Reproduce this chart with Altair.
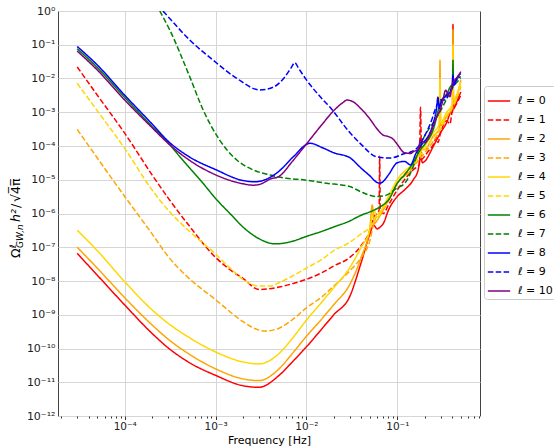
import altair as alt
import pandas as pd

# ---------------- data ----------------
labels = ["ℓ = 0", "ℓ = 1", "ℓ = 2", "ℓ = 3", "ℓ = 4", "ℓ = 5",
          "ℓ = 6", "ℓ = 7", "ℓ = 8", "ℓ = 9", "ℓ = 10"]
colors = ["#ff0000", "#ff0000", "#ffa500", "#ffa500", "#ffd700", "#ffd700",
          "#008000", "#008000", "#0000ff", "#0000ff", "#800080"]
dashed = [False, True, False, True, False, True, False, True, False, True, False]

f_l0 = [3e-5, 5e-5, 1e-4, 2e-4, 3e-4, 5e-4, 1e-3, 2e-3, 3e-3, 5e-3, 7e-3, 1e-2, 1.5e-2, 2e-2,
        3e-2, 4e-2, 5e-2, 5.5e-2, 6e-2, 6.5e-2, 7e-2, 8e-2, 1e-1, 1.2e-1, 1.5e-1, 1.7e-1, 1.8e-1,
        1.9e-1, 2e-1, 2.5e-1, 3e-1, 3.5e-1, 3.9e-1, 4.05e-1, 4.1e-1, 4.15e-1, 4.5e-1, 5e-1]
o_l0 = [6.6e-8, 1.48e-8, 1.95e-9, 2.8e-10, 1.05e-10, 4.0e-11, 1.6e-11, 7.9e-12, 7.1e-12, 1.6e-11,
        4.0e-11, 1.12e-10, 4.0e-10, 1.0e-9, 3.5e-9, 3.5e-8, 2.5e-7, 4.5e-7, 3.5e-7, 4.0e-7, 5.0e-7,
        1.26e-6, 3.2e-6, 5.0e-6, 1.0e-5, 2.0e-5, 4.5e-5, 3.2e-5, 3.5e-5, 1.0e-4, 2.5e-4, 5.0e-4,
        1.0e-3, 1.0e-3, 0.4, 1.26e-3, 2.0e-3, 4.0e-3]

f_l1 = [3e-5, 5e-5, 1e-4, 2e-4, 3e-4, 5e-4, 1e-3, 1.5e-3, 2e-3, 3e-3, 5e-3, 7e-3, 1e-2, 1.5e-2,
        2e-2, 3e-2, 4e-2, 5e-2, 5.5e-2, 6e-2, 6.3e-2, 6.4e-2, 6.5e-2, 7e-2, 8e-2, 1e-1, 1.2e-1,
        1.5e-1, 1.75e-1, 1.8e-1, 1.85e-1, 2e-1, 2.2e-1, 2.5e-1, 2.7e-1, 2.8e-1, 3e-1, 3.5e-1,
        3.8e-1, 4e-1, 4.5e-1, 5e-1]
o_l1 = [2.2e-2, 3.2e-3, 2.4e-4, 1.4e-5, 2.9e-6, 4.7e-7, 5.0e-8, 2.0e-8, 1.2e-8, 5.6e-9, 6.6e-9,
        8.3e-9, 1.12e-8, 1.8e-8, 2.8e-8, 5.0e-8, 1.12e-7, 3.2e-7, 7.9e-7, 1.0e-6, 1.26e-6, 5.0e-5,
        1.26e-6, 1.0e-6, 1.8e-6, 5.0e-6, 1.0e-5, 2.0e-5, 2.8e-5, 1.4e-3, 4.0e-5, 5.0e-5, 7.1e-5,
        1.12e-4, 1.8e-4, 1.26e-4, 2.5e-4, 5.6e-4, 4.5e-4, 1.0e-3, 1.8e-3, 3.2e-3]

f_l2 = [3e-5, 5e-5, 1e-4, 2e-4, 3e-4, 5e-4, 1e-3, 2e-3, 3e-3, 5e-3, 7e-3, 1e-2, 1.5e-2, 2e-2,
        3e-2, 4e-2, 5e-2, 5.3e-2, 5.6e-2, 6e-2, 7e-2, 8e-2, 1e-1, 1.5e-1, 1.8e-1, 2e-1, 2.5e-1,
        2.9e-1, 2.95e-1, 3e-1, 3.5e-1, 4.05e-1, 4.1e-1, 4.15e-1, 5e-1]
o_l2 = [1.0e-7, 2.4e-8, 3.2e-9, 5.0e-10, 1.9e-10, 7.1e-11, 2.5e-11, 1.26e-11, 1.12e-11, 2.5e-11,
        7.1e-11, 2.3e-10, 7.9e-10, 2.0e-9, 7.9e-9, 5.0e-8, 4.0e-7, 1.8e-6, 5.0e-7, 6.3e-7, 1.26e-6,
        2.5e-6, 7.9e-6, 2.5e-5, 7.9e-5, 7.9e-5, 2.0e-4, 3.2e-4, 3.5e-2, 4.0e-4, 7.9e-4, 1.4e-3,
        0.28, 2.0e-3, 8.9e-3]

f_l3 = [3e-5, 5e-5, 1e-4, 2e-4, 3e-4, 5e-4, 1e-3, 2e-3, 3e-3, 3.5e-3, 5e-3, 7e-3, 1e-2, 1.5e-2,
        2e-2, 3e-2, 4e-2, 5e-2, 5.5e-2, 6e-2, 7e-2, 8e-2, 1e-1, 1.5e-1, 2e-1, 2.5e-1, 3e-1,
        3.5e-1, 4e-1, 5e-1]
o_l3 = [3.1e-4, 4.4e-5, 3.2e-6, 2.5e-7, 5.4e-8, 1.26e-8, 2.8e-9, 6.3e-10, 3.5e-10, 3.3e-10,
        4.0e-10, 7.1e-10, 1.6e-9, 3.5e-9, 7.1e-9, 2.0e-8, 5.0e-8, 1.6e-7, 5.0e-7, 8.9e-7, 1.26e-6,
        2.5e-6, 7.9e-6, 2.5e-5, 6.3e-5, 1.4e-4, 3.2e-4, 7.1e-4, 1.26e-3, 5.6e-3]

f_l4 = [3e-5, 5e-5, 1e-4, 2e-4, 3e-4, 5e-4, 1e-3, 2e-3, 3e-3, 5e-3, 7e-3, 1e-2, 1.5e-2, 2e-2,
        3e-2, 4e-2, 5e-2, 5.5e-2, 6e-2, 7e-2, 8e-2, 1e-1, 1.5e-1, 2e-1, 2.5e-1, 2.9e-1, 2.95e-1,
        3e-1, 3.5e-1, 4.05e-1, 4.1e-1, 4.15e-1, 5e-1]
o_l4 = [3.2e-7, 7.9e-8, 9.5e-9, 1.4e-9, 5.6e-10, 2.2e-10, 7.9e-11, 4.0e-11, 3.5e-11, 7.1e-11,
        2.0e-10, 6.9e-10, 2.5e-9, 6.3e-9, 2.5e-8, 1.0e-7, 3.5e-7, 1.26e-6, 7.9e-7, 1.6e-6, 3.2e-6,
        1.0e-5, 3.2e-5, 1.0e-4, 2.5e-4, 4.5e-4, 1.0e-2, 5.0e-4, 1.0e-3, 1.8e-3, 0.1, 2.5e-3, 7.9e-3]

f_l5 = [3e-5, 5e-5, 1e-4, 2e-4, 3e-4, 5e-4, 1e-3, 1.5e-3, 2e-3, 3e-3, 4e-3, 5e-3, 7e-3, 1e-2,
        1.5e-2, 2e-2, 3e-2, 4e-2, 5e-2, 5.5e-2, 6e-2, 7e-2, 8e-2, 1e-1, 1.5e-1, 2e-1, 2.5e-1,
        3e-1, 3.5e-1, 4e-1, 5e-1]
o_l5 = [7.2e-3, 1.1e-3, 8.5e-5, 5.0e-6, 1.26e-6, 3.2e-7, 6.3e-8, 2.2e-8, 1.12e-8, 7.1e-9, 7.1e-9,
        8.9e-9, 1.4e-8, 2.4e-8, 4.5e-8, 7.9e-8, 1.4e-7, 2.5e-7, 4.0e-7, 6.3e-7, 8.9e-7, 1.4e-6,
        2.5e-6, 7.9e-6, 2.8e-5, 7.9e-5, 1.8e-4, 3.5e-4, 7.9e-4, 1.4e-3, 6.3e-3]

f_l6 = [3e-5, 5e-5, 1e-4, 2e-4, 3e-4, 4e-4, 5e-4, 7e-4, 1e-3, 1.5e-3, 2e-3, 3e-3, 4.5e-3, 7e-3,
        1e-2, 1.5e-2, 2e-2, 3e-2, 4e-2, 5e-2, 6e-2, 7e-2, 8e-2, 1e-1, 1.2e-1, 1.5e-1, 1.8e-1,
        2e-1, 2.5e-1, 3e-1, 3.5e-1, 4e-1, 4.05e-1, 4.1e-1, 4.15e-1, 4.5e-1, 5e-1]
o_l6 = [7.6e-2, 2.1e-2, 2.75e-3, 3.8e-4, 1.26e-4, 5.0e-5, 2.5e-5, 8.9e-6, 2.8e-6, 8.9e-7, 4.0e-7,
        1.8e-7, 1.26e-7, 1.5e-7, 2.1e-7, 3.0e-7, 4.0e-7, 6.0e-7, 8.9e-7, 1.12e-6, 1.4e-6, 1.8e-6,
        2.5e-6, 7.9e-6, 1.4e-5, 3.2e-5, 7.9e-5, 1.12e-4, 3.2e-4, 2.0e-3, 3.5e-3, 6.3e-3, 6.3e-3,
        3.5e-2, 7.1e-3, 1.0e-2, 1.12e-2]

f_l7 = [2.43e-4, 3.13e-4, 5.2e-4, 7.3e-4, 1.11e-3, 1.7e-3, 2.6e-3, 4e-3, 6e-3, 9.2e-3, 1.66e-2,
        3e-2, 3.9e-2, 5.9e-2, 7.6e-2, 9.8e-2, 1.21e-1, 1.5e-1, 1.77e-1, 2e-1, 2.5e-1, 3e-1, 3.5e-1,
        4e-1, 5e-1]
o_l7 = [1.0, 0.275, 1.12e-2, 1.17e-3, 1.5e-4, 3.9e-5, 1.95e-5, 1.38e-5, 1.1e-5, 1.0e-5, 7.9e-6,
        6.3e-6, 4.5e-6, 3.2e-6, 3.5e-6, 5.6e-6, 7.9e-6, 2.5e-5, 1.0e-4, 2.0e-4, 5.0e-4, 1.12e-3,
        2.5e-3, 5.0e-3, 1.0e-2]

f_l8 = [3e-5, 5e-5, 1e-4, 2e-4, 3e-4, 5e-4, 1e-3, 2e-3, 2.7e-3, 3.5e-3, 5e-3, 7e-3, 1.1e-2,
        1.5e-2, 2e-2, 3e-2, 4e-2, 5e-2, 6e-2, 6.5e-2, 7e-2, 8e-2, 1e-1, 1.2e-1, 1.4e-1, 1.6e-1,
        1.8e-1, 2e-1, 2.2e-1, 2.5e-1, 2.7e-1, 2.8e-1, 2.9e-1, 3e-1, 3.5e-1, 4e-1, 4.1e-1, 4.2e-1,
        4.5e-1, 5e-1]
o_l8 = [8.9e-2, 2.5e-2, 3.2e-3, 4.5e-4, 1.4e-4, 5.0e-5, 2.0e-5, 9.5e-6, 8.7e-6, 1.0e-5, 1.8e-5,
        4.5e-5, 1.2e-4, 8.9e-5, 6.3e-5, 4.5e-5, 2.2e-5, 1.3e-5, 8.3e-6, 7.9e-6, 8.9e-6, 1.4e-5,
        3.2e-5, 3.5e-5, 2.75e-5, 6.0e-5, 1.0e-4, 1.4e-4, 2.0e-4, 5.0e-4, 1.26e-3, 2.8e-3, 1.26e-3,
        1.8e-3, 3.2e-3, 5.0e-3, 1.26e-2, 6.3e-3, 1.0e-2, 1.4e-2]

f_l9 = [2.64e-4, 3.13e-4, 5.2e-4, 9.4e-4, 1.7e-3, 3.07e-3, 4.3e-3, 5.8e-3, 6.8e-3, 7.45e-3,
        8.2e-3, 1.0e-2, 1.53e-2, 1.8e-2, 3.0e-2, 4e-2, 5.9e-2, 8.3e-2, 1.21e-1, 1.5e-1, 1.7e-1,
        2e-1, 2.39e-1, 2.6e-1, 2.97e-1, 3.3e-1, 3.7e-1, 4.1e-1, 4.9e-1]
o_l9 = [1.0, 0.6, 0.138, 3.5e-2, 1.02e-2, 4.6e-3, 5.5e-3, 1.12e-2, 2.1e-2, 2.95e-2, 2.0e-2,
        9.1e-3, 2.3e-3, 1.45e-3, 2.5e-4, 1.12e-4, 4.8e-5, 4.4e-5, 6.0e-5, 7.1e-5, 9.5e-5, 2.0e-4,
        5.9e-4, 1.17e-3, 2.3e-3, 2.3e-3, 3.6e-3, 6.3e-3, 1.12e-2]

f_l10 = [3e-5, 5e-5, 1e-4, 2e-4, 3e-4, 5e-4, 1e-3, 2e-3, 2.6e-3, 3.2e-3, 4e-3, 5e-3, 7e-3, 1e-2,
         1.5e-2, 2e-2, 2.5e-2, 2.8e-2, 3.2e-2, 4e-2, 5e-2, 6e-2, 7e-2, 8e-2, 9e-2, 1e-1, 1.2e-1,
         1.4e-1, 1.5e-1, 1.7e-1, 1.8e-1, 2e-1, 2.2e-1, 2.5e-1, 2.7e-1, 3e-1, 3.2e-1, 3.4e-1,
         3.6e-1, 3.8e-1, 4e-1, 4.3e-1, 4.6e-1, 5e-1]
o_l10 = [6.5e-2, 1.78e-2, 2.3e-3, 3.5e-4, 1.2e-4, 4.0e-5, 1.4e-5, 7.6e-6, 6.9e-6, 7.6e-6, 1.05e-5,
         1.26e-5, 3.5e-5, 1.15e-4, 4.5e-4, 1.12e-3, 1.9e-3, 2.3e-3, 2.1e-3, 1.26e-3, 6.3e-4,
         3.2e-4, 2.1e-4, 1.9e-4, 1.6e-4, 1.12e-4, 6.3e-5, 6.0e-5, 6.8e-5, 7.9e-5, 1.5e-4, 1.26e-4,
         1.8e-4, 4.0e-4, 7.1e-4, 1.26e-3, 2.5e-3, 4.5e-3, 3.5e-3, 2.9e-3, 6.3e-3, 9.1e-3, 1.12e-2,
         1.6e-2]

freqs = [f_l0, f_l1, f_l2, f_l3, f_l4, f_l5, f_l6, f_l7, f_l8, f_l9, f_l10]
omegas = [o_l0, o_l1, o_l2, o_l3, o_l4, o_l5, o_l6, o_l7, o_l8, o_l9, o_l10]

rows = []
for k, (fs, os_) in enumerate(zip(freqs, omegas)):
    for i, (f, o) in enumerate(zip(fs, os_)):
        rows.append({"label": labels[k], "k": k, "i": i, "f": f, "omega": o})
df = pd.DataFrame(rows)

# ---------------- axes helpers ----------------
X_DOMAIN = [1.845e-5, 0.813]
Y_DOMAIN = [1e-12, 1.0]
SUP = {0: "⁰", -1: "⁻¹", -2: "⁻²", -3: "⁻³", -4: "⁻⁴", -5: "⁻⁵", -6: "⁻⁶",
       -7: "⁻⁷", -8: "⁻⁸", -9: "⁻⁹", -10: "⁻¹⁰", -11: "⁻¹¹", -12: "⁻¹²"}
EXP = "round(log(datum.value)/LN10)"
MAJOR = f"abs(log(datum.value)/LN10 - {EXP}) < 0.01"
sup_expr = " : ".join(f"{EXP} == {e} ? '10{s}'" for e, s in SUP.items()) + " : ''"
label_expr = f"{MAJOR} ? ({sup_expr}) : ''"

x_ticks = [m * 10.0 ** e for e in range(-5, 0) for m in range(1, 10)
           if X_DOMAIN[0] <= m * 10.0 ** e <= X_DOMAIN[1]]
y_ticks = [10.0 ** (-e) for e in range(0, 13)]

FONT = "DejaVu Sans"

x_axis = alt.Axis(
    values=x_ticks, labelExpr=label_expr, title="Frequency [Hz]",
    titleFont=FONT, titleFontSize=11, titleFontWeight="normal", titleColor="black",
    titlePadding=2.5,
    labelFont=FONT, labelFontSize=10.5, labelColor="#222222", labelPadding=1.5,
    labelOverlap=False, labelFlush=False, domain=False,
    tickColor="#333333",
    tickSize={"condition": {"test": MAJOR, "value": 3.5}, "value": 2},
    gridColor="#d6d6d6", gridWidth=1,
    gridOpacity={"condition": {"test": MAJOR, "value": 1}, "value": 0},
)
y_axis = alt.Axis(
    values=y_ticks, labelExpr=label_expr, title=None,
    labelFont=FONT, labelFontSize=11, labelColor="#222222", labelPadding=3,
    labelOverlap=False, labelFlush=False, domain=False, ticks=False,
    gridColor="#d6d6d6", gridWidth=1,
)

legend_kw = dict(
    orient="none", legendX=426, legendY=75, title=None,
    fillColor="white", strokeColor="#cccccc", padding=3, cornerRadius=3,
    symbolType="stroke", symbolSize=500, symbolStrokeWidth=1.5,
    labelFont=FONT, labelFontSize=11, labelColor="black", labelOffset=7,
    rowPadding=2,
)

dash_range = [[5.5, 2.4] if d else [1, 0] for d in dashed]

lines = alt.Chart(df).mark_line(clip=True, strokeWidth=1.5, interpolate="monotone").encode(
    x=alt.X("f:Q", scale=alt.Scale(type="log", domain=X_DOMAIN, nice=False), axis=x_axis),
    y=alt.Y("omega:Q", scale=alt.Scale(type="log", domain=Y_DOMAIN, nice=False), axis=y_axis),
    color=alt.Color("label:N", scale=alt.Scale(domain=labels, range=colors),
                    legend=alt.Legend(**legend_kw)),
    strokeDash=alt.StrokeDash("label:N", scale=alt.Scale(domain=labels, range=dash_range),
                              legend=alt.Legend(**legend_kw)),
    detail="k:N",
    order="i:Q",
)

# y-axis title pieces (rotated), positioned left of the plot area
title_parts = [
    {"t": "Ω", "x": -38, "y": 247, "size": 12.5, "style": "normal"},
    {"t": "ℓ", "x": -42.5, "y": 237, "size": 9, "style": "italic"},
    {"t": "GW,n", "x": -35.5, "y": 237, "size": 9, "style": "italic"},
    {"t": "h²", "x": -38, "y": 211, "size": 12.5, "style": "italic"},
    {"t": "/", "x": -38, "y": 197, "size": 12.5, "style": "normal"},
    {"t": "√4̅π̅", "x": -38, "y": 191, "size": 12.5, "style": "normal"},
]
title_layers = []
for p in title_parts:
    title_layers.append(
        alt.Chart(pd.DataFrame({"t": [p["t"]]})).mark_text(
            angle=270, align="left", baseline="alphabetic", font=FONT,
            fontSize=p["size"], fontStyle=p["style"], color="black",
        ).encode(text="t:N", x=alt.value(p["x"]), y=alt.value(p["y"]))
    )

chart = alt.layer(lines, *title_layers).properties(
    width=422, height=405,
    padding={"left": 58, "top": 11, "right": 74, "bottom": 30},
    autosize=alt.AutoSizeParams(type="none"),
    background="white",
).configure_view(stroke="#444444", strokeWidth=1)

chart.save("out.html", embed_options={"renderer": "svg", "actions": False})
